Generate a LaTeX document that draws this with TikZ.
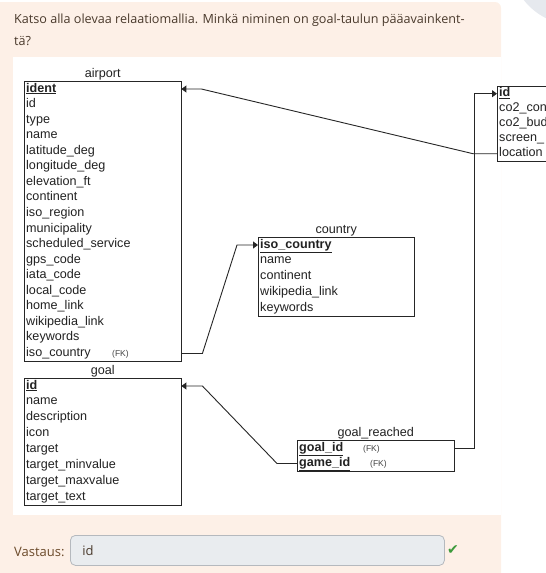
\documentclass[tikz,border=0pt]{standalone}
\usepackage{fontspec}
\setmainfont{Open Sans}
\newfontfamily\erfont{Liberation Sans}
\newfontfamily\symfont{DejaVu Sans}
\usetikzlibrary{arrows.meta,fit,positioning}
\definecolor{peach}{HTML}{FDF0E7}
\definecolor{qtext}{HTML}{4A3A2C}
\definecolor{atext}{HTML}{6B4A2A}
\definecolor{erline}{HTML}{262626}
\definecolor{ertext}{HTML}{222222}
\definecolor{fkgray}{HTML}{444444}
\definecolor{boxfill}{HTML}{E9ECEF}
\definecolor{boxline}{HTML}{B5B9BE}
\definecolor{okgreen}{HTML}{3C9A3C}
\definecolor{blob}{HTML}{E6E9EE}
\newcommand{\pk}[1]{\underline{\textbf{#1}}}
\newcommand{\fk}{{\fontsize{8.5}{9}\selectfont\color{fkgray}(FK)}}
\tikzset{
  field/.style={anchor=north west, text width=#1, align=left, inner xsep=2pt,
    inner ysep=0pt, minimum height=15.6pt, text height=9pt, text depth=3pt,
    font=\erfont\fontsize{12.6}{14}\selectfont, text=ertext},
  tbl/.style={draw=erline, line width=1pt, inner sep=0pt},
  tbltitle/.style={inner sep=0pt, text height=9pt, text depth=2pt,
    font=\erfont\fontsize{12.6}{14}\selectfont, text=ertext},
  link/.style={draw=erline, line width=0.9pt, -{Triangle[length=5pt,width=7pt]}}
}
\begin{document}
\begin{tikzpicture}[x=1pt,y=-1pt]
\useasboundingbox (0,0) rectangle (546,573);
% page background
\fill[blob] (575,-40) circle (65);
\fill[peach, rounded corners=6pt] (-10,2) rectangle (501,600);
\fill[white] (13,57) rectangle (501,515);
\node[anchor=base west, inner sep=0pt, text=qtext, font=\fontsize{12.6}{16}\selectfont] (question1) at (14,23)
  {Katso alla olevaa relaatiomallia. Minkä niminen on goal-taulun pääavainkent-};
\node[anchor=base west, inner sep=0pt, text=qtext, font=\fontsize{12.6}{16}\selectfont] (question2) at (14,45) {tä?};

% airport
\foreach \f [count=\i] in {\pk{ident},id,type,name,latitude\_deg,longitude\_deg,elevation\_ft,
  continent,iso\_region,municipality,scheduled\_service,gps\_code,iata\_code,local\_code,
  home\_link,wikipedia\_link,keywords,{\makebox[86pt][l]{iso\_country}\fk}}
  \node[field=153pt] (airport-\i) at (24,{81+15.56*(\i-1)}) {\f};
\node[tbl, fit=(airport-1)(airport-18)] (airport) {};
\node[tbltitle, above=1pt of airport] {airport};

% goal
\foreach \f [count=\i] in {\pk{id},name,description,icon,target,target\_minvalue,
  target\_maxvalue,target\_text}
  \node[field=153pt] (goal-\i) at (24,{378+15.88*(\i-1)}) {\f};
\node[tbl, fit=(goal-1)(goal-8)] (goal) {};
\node[tbltitle, above=1pt of goal] {goal};

% country
\foreach \f [count=\i] in {\pk{iso\_country},name,continent,wikipedia\_link,keywords}
  \node[field=152pt] (country-\i) at (258,{237+15.8*(\i-1)}) {\f};
\node[tbl, fit=(country-1)(country-5)] (country) {};
\node[tbltitle, above=1pt of country] {country};

% goal_reached
\foreach \f [count=\i] in {{\makebox[64pt][l]{\pk{goal\_id}}\fk},{\makebox[71pt][l]{\pk{game\_id}}\fk}}
  \node[field=153pt] (reached-\i) at (297,{440+15.5*(\i-1)}) {\f};
\node[tbl, fit=(reached-1)(reached-2)] (reached) {};
\node[tbltitle, above=1pt of reached] {goal\_reached};

% game (cut off at the right edge)
\foreach \f [count=\i] in {\pk{id},co2\_con,co2\_bud,screen\_,location}
  \node[field=153pt, minimum height=15pt] (game-\i) at (497,{86+15*(\i-1)}) {\f};
\node[tbl, fit=(game-1)(game-5)] (game) {};

% relations
\draw[link] (game-5.west) -- ++(-24,0) -- ([xshift=20pt]airport-1.east) -- (airport-1.east);
\draw[link] (airport-18.east) -- ++(21,0) -- ([xshift=-21pt]country-1.west) -- (country-1.west);
\draw[link] (reached-2.west) -- ++(-20,0) -- ([xshift=21pt]goal-1.east) -- (goal-1.east);
\draw[link] (reached-1.east) -- ++(20,0) |- (game-1.west);

% answer
\node[anchor=base west, inner sep=0pt, text=atext, font=\fontsize{13}{16}\selectfont] (label) at (14,556) {Vastaus:};
\node[anchor=north west, draw=boxline, fill=boxfill, rounded corners=5pt, line width=0.8pt,
  minimum width=374pt, minimum height=30pt, text width=350pt, align=left, inner xsep=12pt,
  text=qtext, font=\fontsize{13}{16}\selectfont] (answer) at (70,535) {id};
\node[right=2pt of answer, inner sep=0pt, text=okgreen, font=\symfont\fontsize{14}{14}\selectfont] (ok) {✔};
\end{tikzpicture}
\end{document}
